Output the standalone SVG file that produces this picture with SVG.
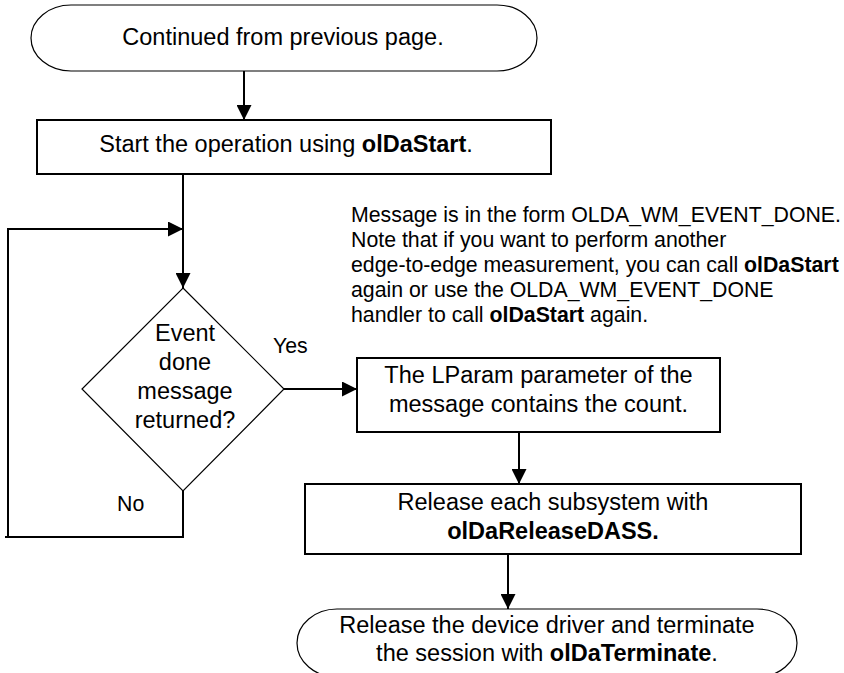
<svg xmlns="http://www.w3.org/2000/svg" width="844" height="673" viewBox="0 0 844 673">
<style>
text{font-family:"Liberation Sans",Arial,Helvetica,sans-serif;fill:#000}
.m{font-size:23.5px;text-anchor:middle}
.n{font-size:21.3px}
.b{font-weight:bold}
.thin{fill:#fff;stroke:#000;stroke-width:1.2}
.box{fill:#fff;stroke:#000;stroke-width:2}
.c{fill:none;stroke:#000;stroke-width:2}
</style>
<defs>
<marker id="ah" markerUnits="userSpaceOnUse" markerWidth="16" markerHeight="15" refX="15" refY="7.5" orient="auto">
<path d="M0,0 L15,7.5 L0,15 z" fill="#000"/>
</marker>
</defs>
<g id="connectors">
<path class="c" d="M244,71 L244,120" marker-end="url(#ah)"/>
<path class="c" d="M183,175 L183,288" marker-end="url(#ah)"/>
<path class="c" d="M183,491 L183,537 L5,537"/>
<path class="c" d="M8,537 L8,229 L183,229" marker-end="url(#ah)"/>
<path class="c" d="M284,389 L357,389" marker-end="url(#ah)"/>
<path class="c" d="M519,432 L519,484" marker-end="url(#ah)"/>
<path class="c" d="M508,554 L508,609" marker-end="url(#ah)"/>
</g>
<g id="start">
<rect class="thin" x="31" y="5" width="506" height="66" rx="40" ry="33"/>
<text class="m" x="283" y="45">Continued from previous page.</text>
</g>
<g id="olDaStart">
<rect class="box" x="37" y="120" width="514" height="54"/>
<text class="m" x="286" y="152">Start the operation using <tspan class="b">olDaStart</tspan>.</text>
</g>
<g id="decision">
<path class="thin" d="M183,288 L284,389 L183,491 L82,389 z"/>
<text class="m" x="185" y="341">Event</text>
<text class="m" x="185" y="370">done</text>
<text class="m" x="185" y="399">message</text>
<text class="m" x="185" y="428">returned?</text>
</g>
<g id="labels">
<text class="n" x="273" y="353">Yes</text>
<text class="n" x="117" y="511">No</text>
</g>
<g id="note">
<text class="n" x="351" y="222">Message is in the form OLDA_WM_EVENT_DONE.</text>
<text class="n" x="351" y="247">Note that if you want to perform another</text>
<text class="n" x="351" y="272">edge-to-edge measurement, you can call <tspan class="b">olDaStart</tspan></text>
<text class="n" x="351" y="297">again or use the OLDA_WM_EVENT_DONE</text>
<text class="n" x="351" y="322">handler to call <tspan class="b">olDaStart</tspan> again.</text>
</g>
<g id="lparam">
<rect class="box" x="357" y="358" width="363" height="74"/>
<text class="m" x="538.5" y="383">The LParam parameter of the</text>
<text class="m" x="538.5" y="412">message contains the count.</text>
</g>
<g id="release">
<rect class="box" x="305" y="484" width="496" height="70"/>
<text class="m" x="553" y="510">Release each subsystem with</text>
<text class="m b" x="553" y="539">olDaReleaseDASS.</text>
</g>
<g id="terminate">
<rect class="thin" x="297" y="609" width="500" height="68" rx="40" ry="34"/>
<text class="m" x="547" y="633">Release the device driver and terminate</text>
<text class="m" x="547" y="661">the session with <tspan class="b">olDaTerminate</tspan>.</text>
</g>
</svg>
